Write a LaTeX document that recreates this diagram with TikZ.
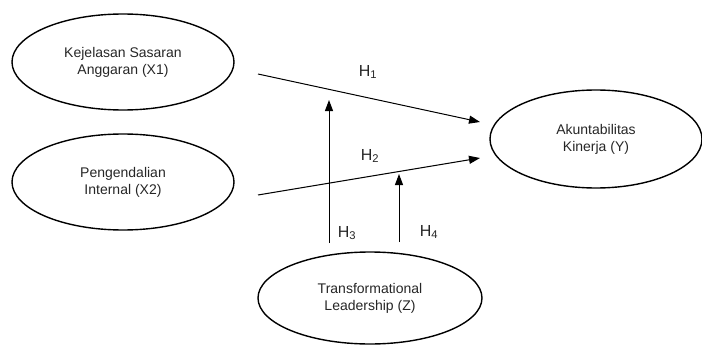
\documentclass[tikz,border=0pt]{standalone}
\usepackage{fontspec}
\setmainfont{Liberation Sans}
\usetikzlibrary{shapes.geometric,arrows.meta}
\begin{document}
\begin{tikzpicture}[x=1pt,y=-1pt,
  var/.style={draw,ellipse,line width=1.4pt,inner sep=0pt,align=center,
    font=\fontsize{14}{17}\selectfont,text=black!85},
  link/.style={line width=1pt,-{Triangle[length=11pt,width=8pt]}},
  hlab/.style={font=\fontsize{16}{18}\selectfont,text=black!85}]
\useasboundingbox (0,0) rectangle (702,345);
\node[var,minimum width=222pt,minimum height=96pt] (x1) at (123,62) {Kejelasan Sasaran\\Anggaran (X1)};
\node[var,minimum width=222pt,minimum height=96pt] (x2) at (123,182) {Pengendalian\\Internal (X2)};
\node[var,minimum width=212pt,minimum height=98pt] (y) at (596,139) {Akuntabilitas\\Kinerja (Y)};
\node[var,minimum width=224pt,minimum height=92pt] (z) at (370,298) {Transformational\\Leadership (Z)};
\coordinate (h1s) at (258,74);
\coordinate (h1e) at (480,122);
\coordinate (h2s) at (258,195);
\coordinate (h2e) at (480,158);
\coordinate (h3s) at (329,243);
\coordinate (h3e) at (329,100);
\coordinate (h4s) at (399,242);
\coordinate (h4e) at (399,174);
\draw[link] (h1s) -- (h1e);
\draw[link] (h2s) -- (h2e);
\draw[link] (h3s) -- (h3e);
\draw[link] (h4s) -- (h4e);
\node[hlab] (l1) at (368,72) {H\textsubscript{1}};
\node[hlab] (l2) at (370,156) {H\textsubscript{2}};
\node[hlab] (l3) at (347,233) {H\textsubscript{3}};
\node[hlab] (l4) at (429,232) {H\textsubscript{4}};
\end{tikzpicture}
\end{document}
